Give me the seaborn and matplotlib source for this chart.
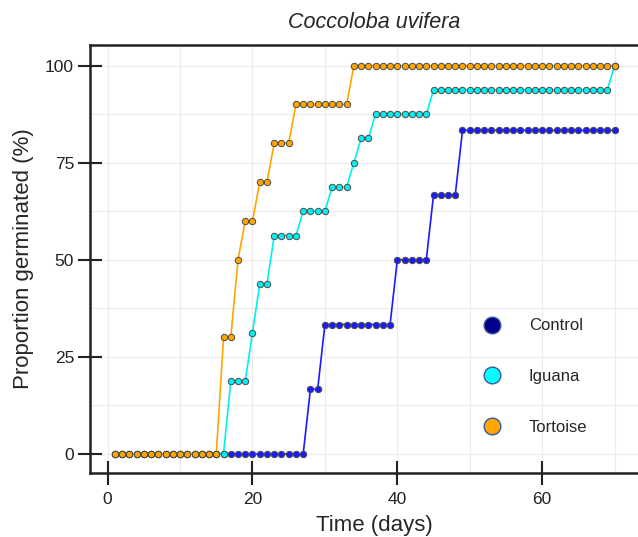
import numpy as np
import pandas as pd
import seaborn as sns
import matplotlib.pyplot as plt
from matplotlib.lines import Line2D
from matplotlib.ticker import MultipleLocator

sns.set_style("white")
plt.rcParams['font.family'] = ['Liberation Sans', 'DejaVu Sans']

# days 1..70, cumulative germination (%)
days = list(range(1, 71))

# Control: n = 6 seeds
control = [0.0] * 27 + [16.67] * 2 + [33.33] * 10 + [50.0] * 5 + [66.67] * 4 + [83.33] * 22
# Iguana: n = 16 seeds
iguana = ([0.0] * 16 + [18.75] * 3 + [31.25] + [43.75] * 2 + [56.25] * 4 + [62.5] * 4
          + [68.75] * 3 + [75.0] + [81.25] * 2 + [87.5] * 8 + [93.75] * 25 + [100.0])
# Tortoise: n = 10 seeds
tortoise = ([0.0] * 15 + [30.0] * 2 + [50.0] + [60.0] * 2 + [70.0] * 2 + [80.0] * 3
            + [90.0] * 8 + [100.0] * 37)

groups = ["Control", "Iguana", "Tortoise"]
line_cols = {"Control": "#1a1aff", "Iguana": "#00f0f0", "Tortoise": "#ffa500"}
legend_cols = {"Control": "#00008b", "Iguana": "#00ffff", "Tortoise": "#ffa500"}

df = pd.DataFrame({
    "day": days * 3,
    "prop": control + iguana + tortoise,
    "group": ["Control"] * 70 + ["Iguana"] * 70 + ["Tortoise"] * 70,
})

fig = plt.figure(figsize=(6.38, 5.37), dpi=100)
# panel runs a little past the right edge (the original image is cropped)
ax = fig.add_axes([90 / 638, 64 / 537, 568 / 638, 428.3 / 537])

sns.lineplot(data=df, x="day", y="prop", hue="group", hue_order=groups,
             palette=line_cols, marker="o", markersize=4.6, markeredgecolor="#4a4a4a",
             markeredgewidth=0.7, linewidth=1.2, legend=False, ax=ax)

ax.set_xlim(-2.44, 76.0)
ax.set_ylim(-4.9, 105.4)
ax.xaxis.set_major_locator(MultipleLocator(20))
ax.xaxis.set_minor_locator(MultipleLocator(10))
ax.yaxis.set_major_locator(MultipleLocator(25))
ax.yaxis.set_minor_locator(MultipleLocator(12.5))
ax.grid(True, which="both", color="#ececec", linewidth=0.9)
ax.set_axisbelow(True)

for s in ["left", "top", "bottom"]:
    ax.spines[s].set_linewidth(1.8)
    ax.spines[s].set_color("#222222")
ax.spines["right"].set_visible(False)

ax.tick_params(which="major", bottom=True, left=True, direction="inout", length=17,
               width=1.5, labelsize=12.5, colors="#222222")
ax.tick_params(which="minor", bottom=False, left=False, length=0)
ax.tick_params(axis="x", pad=5)
ax.tick_params(axis="y", pad=3)

ax.set_xlabel("Time (days)", fontsize=16, labelpad=6)
ax.set_ylabel("Proportion germinated (%)", fontsize=16, labelpad=8)
ax.set_title("Coccoloba uvifera", fontsize=15.5, style="italic", pad=12)

handles = [Line2D([], [], linestyle="none", marker="o", markersize=12,
                  markerfacecolor=legend_cols[g], markeredgecolor="#3a5a9a",
                  markeredgewidth=1.0) for g in groups]
ax.legend(handles, groups, frameon=False, fontsize=12, loc="upper left",
          bbox_to_anchor=(474 / 638, 1 - 310 / 537), bbox_transform=fig.transFigure,
          labelspacing=2.15, handlelength=1.2, handletextpad=1.6, borderpad=0)

fig.savefig("out.png", dpi=100)
